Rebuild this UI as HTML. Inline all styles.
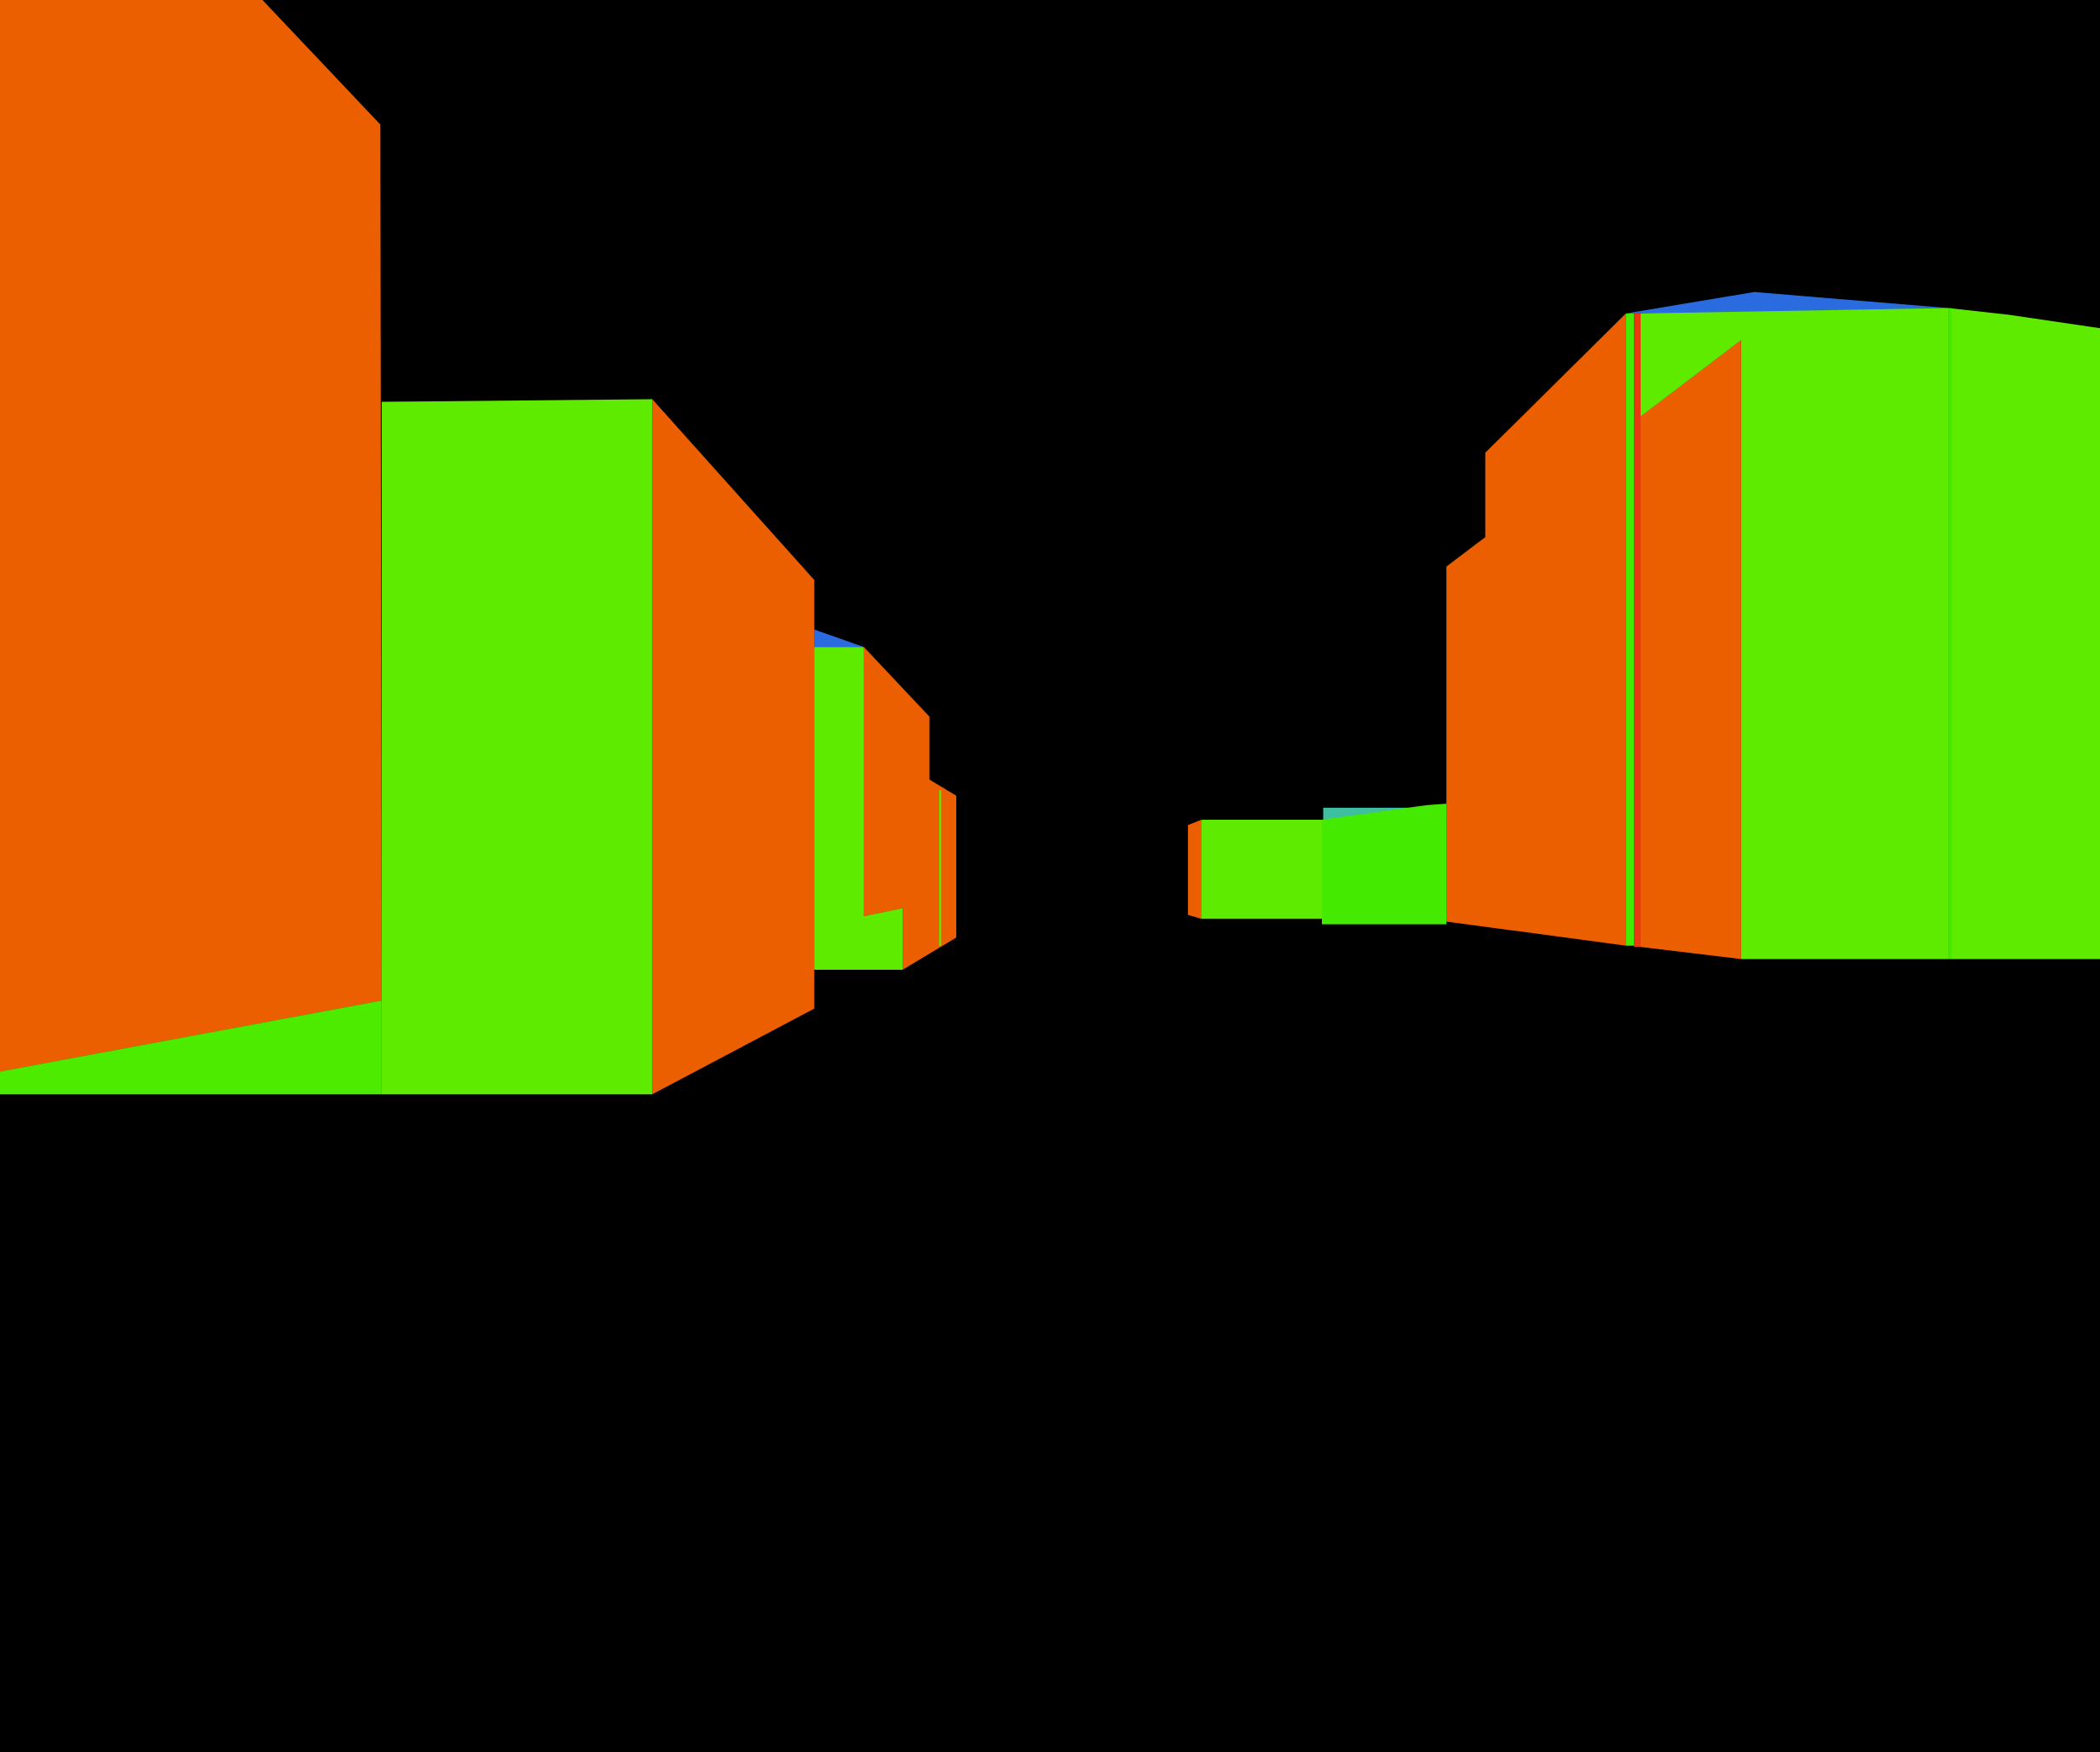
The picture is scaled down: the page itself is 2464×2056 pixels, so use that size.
<!DOCTYPE html>
<html><head><meta charset="utf-8"><title>Scene</title>
<style>html,body{margin:0;padding:0;background:#000;overflow:hidden}svg{display:block}</style>
</head><body>
<svg width="2464" height="2056" viewBox="0 0 1568 1308" preserveAspectRatio="none" xmlns="http://www.w3.org/2000/svg">
<rect x="0" y="0" width="1568" height="1308" fill="#000"/>
<!-- left side buildings -->
<polygon points="0,0 196,0 284,93 285,747 0,800" fill="#EB5F00"/>
<polygon points="0,800 285,747 285,817 0,817" fill="#4DEB00"/>
<polygon points="285,300 487,298 487,817 285,817" fill="#5EEB00"/>
<polygon points="487,298 608,433 608,753 487,817" fill="#EB5F00"/>
<polygon points="608,470 645,483 608,483" fill="#2A6BE0"/>
<polygon points="608,483 645,483 645,684 674,678 674,724 608,724" fill="#5EEB00"/>
<polygon points="645,483 694,535 694,582 714,594 714,700 674,724 674,678 645,684" fill="#EB5F00"/>
<line x1="702" y1="590" x2="702" y2="706" stroke="#6BE000" stroke-width="1.5"/>
<!-- right side buildings -->
<polygon points="887,616 897,612 897,686 887,683" fill="#EB5F00"/>
<polygon points="897,612 987,612 987,686 897,686" fill="#5EEB00"/>
<polygon points="988,603 1062,603 1062,612 988,612" fill="#3DBFA0"/>
<polygon points="987,612 1066,601 1080,600 1080,690 987,690" fill="#44EB00"/>
<polygon points="1080,423 1109,401 1109,338 1214,234 1214,706 1080,688" fill="#EB5F00"/>
<polygon points="1214,234 1310,218 1455,230 1425,234" fill="#2A6BE0"/>
<polygon points="1214,234 1220,234 1220,706 1214,706" fill="#44EB00"/>
<polygon points="1220,234 1225,234 1225,707 1220,707" fill="#E83A10"/>
<polygon points="1225,234 1455,230 1455,716 1300,716 1300,254 1225,311" fill="#5EEB00"/>
<polygon points="1225,311 1300,254 1300,716 1225,707" fill="#EB5F00"/>
<polygon points="1455,230 1500,235 1568,245 1568,716 1455,716" fill="#5EEB00"/>
<line x1="1456" y1="230" x2="1456" y2="716" stroke="#3FEB00" stroke-width="2"/>
</svg>
</body></html>
